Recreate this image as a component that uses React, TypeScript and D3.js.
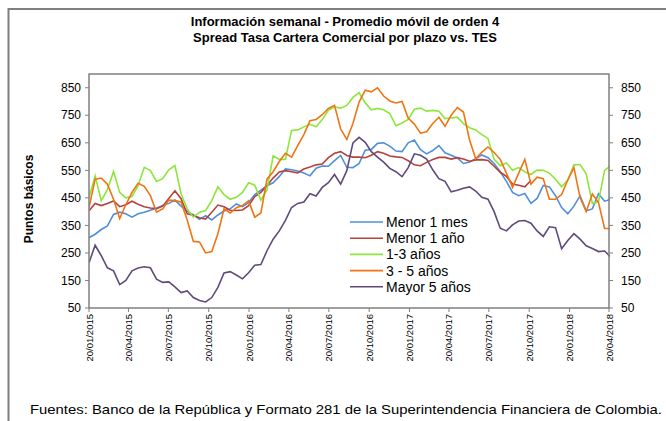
import React from "react";
import * as d3 from "d3";

const W = 666,
  H = 421;
const margin = { top: 74, right: 57, bottom: 113, left: 89 };
const plotW = W - margin.left - margin.right;
const plotH = H - margin.top - margin.bottom;

// fechas del eje (cada trimestre)
const tickLabels = [
  "20/01/2015", "20/04/2015", "20/07/2015", "20/10/2015",
  "20/01/2016", "20/04/2016", "20/07/2016", "20/10/2016",
  "20/01/2017", "20/04/2017", "20/07/2017", "20/10/2017",
  "20/01/2018", "20/04/2018",
];
const yTicks = [50, 150, 250, 350, 450, 550, 650, 750, 850];

// datos leídos cada dos semanas desde 20/01/2015
const menor1Mes = [
  305, 318, 335, 348, 390, 398, 392, 380, 392, 398, 405, 412, 422, 430, 442, 420,
  402, 388, 372, 385, 370, 388, 402, 410, 428, 418, 433, 462, 478, 494, 505, 528,
  555, 552, 548, 540, 530, 558, 566, 565, 585, 604, 561, 560, 575, 623, 626, 648,
  650, 638, 620, 618, 650, 660, 625, 610, 622, 640, 614, 605, 595, 575, 580, 592,
  606, 596, 575, 545, 510, 470, 458, 466, 430, 448, 495, 490, 458, 415, 392, 420,
  458, 403, 410, 465, 438, 445,
];
const menor1Anio = [
  403, 430, 422, 430, 439, 418, 425, 438, 427, 418, 413, 411, 420, 448, 476, 447,
  392, 387, 378, 373, 398, 424, 418, 405, 404, 406, 422, 455, 470, 495, 522, 544,
  549, 545, 541, 555, 562, 570, 573, 596, 612, 618, 604, 598, 598, 596, 605, 618,
  612, 602, 599, 597, 585, 570, 567, 579, 589, 597, 597, 591, 596, 591, 583, 588,
  589, 586, 565, 543, 528, 500, 496, 490, 513, null, null, null, null, null, null, null,
  null, null, null, null, null, null,
];
const anios1a3 = [
  451, 530, 440, 480, 546, 470, 450, 455, 494, 561, 549, 510, 520, 552, 567, 465,
  410, 380, 398, 404, 440, 490, 462, 445, 452, 470, 505, 496, 442, 480, 603, 590,
  590, 695, 697, 708, 717, 708, 735, 768, 780, 776, 786, 815, 832, 795, 770, 775,
  770, 756, 712, 722, 735, 772, 776, 765, 768, 765, 738, 740, 743, 720, 705, 697,
  680, 666, 590, 567, 577, 550, 560, 545, 535, 551, 550, 540, 518, 490, 515, 570,
  571, 537, 430, 436, 550, 567,
];
const anios3a5 = [
  415, 518, 522, 500, 445, 375, 425, 470, 503, 492, 458, 398, 410, 442, 440, 435,
  370, 292, 290, 250, 255, 320, 410, 395, 414, 422, 439, 380, 395, 518, 545, 582,
  612, 598, 640, 680, 730, 735, 752, 775, 786, 700, 662, 720, 798, 841, 835, 850,
  820, 802, 795, 800, 740, 718, 685, 690, 720, 743, 710, 750, 778, 762, 660, 592,
  616, 635, 615, 590, 540, 488, 540, 590, 500, 525, 520, 445, 445, 462, 515, 560,
  451, 400, 464, 433, 339, 339,
];
const mayor5 = [
  214, 278, 240, 196, 185, 135, 150, 185, 195, 200, 196, 155, 143, 145, 127, 106,
  112, 88, 77, 72, 88, 125, 177, 182, 170, 156, 178, 205, 208, 258, 300, 330,
  368, 415, 430, 435, 465, 457, 488, 505, 535, 500, 549, 650, 670, 652, 618, 598,
  580, 557, 545, 527, 560, 610, 605, 591, 552, 520, 510, 472, 478, 485, 490, 475,
  452, 445, 400, 340, 330, 352, 366, 368, 358, 330, 310, 345, 342, 265, 295, 320,
  300, 276, 266, 255, 257, 235,
];

const seriesNames = ["Menor 1 mes", "Menor 1 año", "1-3 años", "3 - 5 años", "Mayor 5 años"];
const seriesValues = [menor1Mes, menor1Anio, anios1a3, anios3a5, mayor5];
const seriesColors = ["#4f8fdc", "#b5423f", "#8ee63a", "#f07412", "#5e4a7c"];

const parse = d3.timeParse("%d/%m/%Y");
const start = parse("20/01/2015") as Date;
const dates = menor1Mes.map((_, i) => d3.timeDay.offset(start, 14 * i));

const font = "Liberation Sans, Arial, sans-serif";

const App = () => {
  const x = d3
    .scaleTime()
    .domain([parse(tickLabels[0]) as Date, parse(tickLabels[tickLabels.length - 1]) as Date])
    .range([margin.left, margin.left + plotW]);
  const y = d3
    .scaleLinear()
    .domain([50, 900])
    .range([margin.top + plotH, margin.top]);

  const line = d3
    .line<number | null>()
    .defined((d) => d != null)
    .x((_, i) => x(dates[i]))
    .y((d) => y(d as number));

  const x0 = margin.left,
    x1 = margin.left + plotW,
    yb = margin.top + plotH;

  return (
    <div style={{ position: "fixed", left: 0, top: 0 }}>
      <svg width={W} height={H} style={{ display: "block", background: "#fff" }} fontFamily={font}>
        <defs>
          <clipPath id="plotClip">
            <rect x={x0} y={margin.top} width={plotW + 1} height={plotH} />
          </clipPath>
        </defs>
        <rect x={8.5} y={9} width={W} height={H} fill="none" stroke="#7f7f7f" strokeWidth={2} />

        <text x={345} y={26} textAnchor="middle" fontSize={13} fontWeight="bold" fill="#000">
          Información semanal - Promedio móvil de orden 4
        </text>
        <text x={345} y={42} textAnchor="middle" fontSize={13} fontWeight="bold" fill="#000">
          Spread Tasa Cartera Comercial por plazo vs. TES
        </text>

        {/* ejes y */}
        {yTicks.map((t) => (
          <g key={t}>
            <line x1={x0 - 4} x2={x0} y1={y(t)} y2={y(t)} stroke="#808080" />
            <line x1={x1} x2={x1 + 4} y1={y(t)} y2={y(t)} stroke="#808080" />
            <text x={x0 - 8} y={y(t)} dy="0.35em" textAnchor="end" fontSize={12} fill="#000">
              {t}
            </text>
            <text x={x1 + 12} y={y(t)} dy="0.35em" textAnchor="start" fontSize={12} fill="#000">
              {t}
            </text>
          </g>
        ))}

        {/* eje x */}
        {tickLabels.map((t) => {
          const px = x(parse(t) as Date);
          return (
            <g key={t}>
              <line x1={px} x2={px} y1={yb} y2={yb + 4} stroke="#808080" />
              <text
                transform={`translate(${px + 3.5},${yb + 6}) rotate(-90)`}
                textAnchor="end"
                fontSize={9.5}
                fill="#000"
              >
                {t}
              </text>
            </g>
          );
        })}

        <g clipPath="url(#plotClip)">
          {seriesValues.map((s, k) => (
            <path key={k} d={line(s) || ""} fill="none" stroke={seriesColors[k]} strokeWidth={1.6} />
          ))}
        </g>

        <rect x={x0} y={margin.top} width={plotW} height={plotH} fill="none" stroke="#808080" strokeWidth={1.5} />

        <text
          transform={`translate(33,199) rotate(-90)`}
          textAnchor="middle"
          fontSize={12}
          fontWeight="bold"
          fill="#000"
        >
          Puntos básicos
        </text>

        {/* leyenda */}
        {seriesNames.map((n, k) => {
          const ly = 222 + k * 16.2;
          return (
            <g key={n}>
              <line x1={350} x2={383} y1={ly} y2={ly} stroke={seriesColors[k]} strokeWidth={1.6} />
              <text x={386} y={ly} dy="0.35em" fontSize={14} fill="#000">
                {n}
              </text>
            </g>
          );
        })}

        <text x={30} y={414} fontSize={13} fill="#000" textLength={632} lengthAdjust="spacingAndGlyphs">
          Fuentes: Banco de la República y Formato 281 de la Superintendencia Financiera de Colombia.
        </text>
      </svg>
    </div>
  );
};

export default App;
